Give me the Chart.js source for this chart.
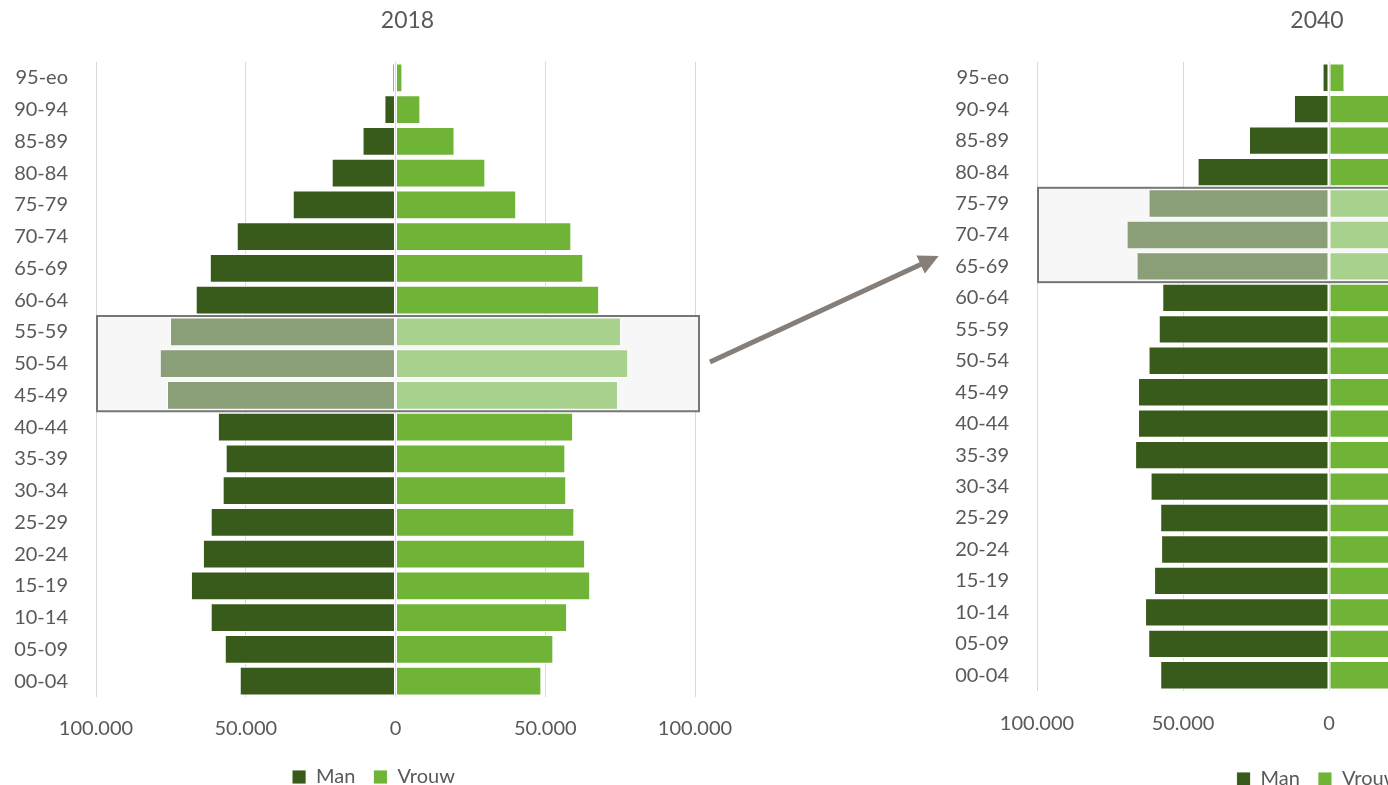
<!DOCTYPE html>
<html>
<head>
<meta charset="utf-8">
<script src="https://cdn.jsdelivr.net/npm/chart.js@4.4.1/dist/chart.umd.min.js"></script>
<style>
  html, body { margin: 0; padding: 0; background: #fff; overflow: hidden; }
  #wrap { position: relative; width: 1388px; height: 785px; overflow: hidden; }
  #wrap canvas { position: absolute; top: 0; }
  #c2018 { left: 0; }
  #c2040 { left: 941px; }
  #arrow { position: absolute; left: 0; top: 0; pointer-events: none; }
</style>
</head>
<body>
<div id="wrap">
  <canvas id="c2018" width="760" height="797"></canvas>
  <canvas id="c2040" width="754" height="799"></canvas>
  <svg id="arrow" width="1388" height="785">
    <defs>
      <marker id="head" markerWidth="4" markerHeight="4" refX="1.2" refY="2" orient="auto" markerUnits="strokeWidth">
        <path d="M0,0 L4,2 L0,4 z" fill="#857e79"></path>
      </marker>
    </defs>
    <line x1="710" y1="362" x2="926" y2="262" stroke="#857e79" stroke-width="5" marker-end="url(#head)"></line>
  </svg>
</div>
<script>
// leeftijdsgroepen, van boven naar beneden
const ageGroups = ["95-eo", "90-94", "85-89", "80-84", "75-79", "70-74", "65-69", "60-64", "55-59", "50-54",
  "45-49", "40-44", "35-39", "30-34", "25-29", "20-24", "15-19", "10-14", "05-09", "00-04"];

const years = ["2018", "2040"];

const man2018 = [1000, 3700, 11000, 21300, 34300, 53000, 62000, 66700, 75300, 78700,
  76300, 59300, 56700, 57700, 61700, 64300, 68300, 61700, 57000, 52000];
const vrouw2018 = [2300, 8300, 19700, 30000, 40300, 58700, 62700, 68000, 75300, 77700,
  74300, 59300, 56700, 57000, 59700, 63300, 65000, 57300, 52700, 48700];

const man2040 = [2200, 12000, 27400, 45000, 61800, 69300, 65900, 57100, 58300, 61800,
  65400, 65400, 66400, 61100, 57800, 57500, 59900, 63000, 61900, 57800];
// vrouw 2040 valt grotendeels buiten beeld, geschat
const vrouw2040 = [5300, 23000, 38000, 54000, 68000, 75000, 70000, 58000, 59000, 62000,
  65000, 64000, 65000, 60000, 57000, 56000, 57000, 60000, 59000, 55000];

const highlight2018 = ["55-59", "50-54", "45-49"];
const highlight2040 = ["75-79", "70-74", "65-69"];

const xTicks = [-100000, -50000, 0, 50000, 100000];

const MAN = "#385a1a";
const MAN_LIGHT = "#8a9e78";
const VROUW = "#6fb437";
const VROUW_LIGHT = "#a9d18e";
const TEXT = "#595959";
const FONT = "Lato";

const fmt = (v) => String(Math.abs(v)).replace(/\B(?=(\d{3})+(?!\d))/g, ".");

// grijze kader achter de gemarkeerde leeftijdsgroepen
const boxRect = (chart, rows) => {
  const { x, y } = chart.scales;
  const labels = chart.data.labels;
  const idx = rows.map((r) => labels.indexOf(r));
  const half = (y.bottom - y.top) / labels.length / 2;
  return {
    left: x.left + 1,
    right: x.right + 4,
    top: y.getPixelForValue(Math.min(...idx)) - half,
    bottom: y.getPixelForValue(Math.max(...idx)) + half,
  };
};

const highlightBox = {
  id: "highlightBox",
  beforeDatasetsDraw(chart, args, opts) {
    const r = boxRect(chart, opts.rows);
    const { ctx } = chart;
    ctx.save();
    ctx.fillStyle = "#f7f7f7";
    ctx.fillRect(r.left, r.top, r.right - r.left, r.bottom - r.top);
    ctx.restore();
  },
  afterDatasetsDraw(chart, args, opts) {
    const r = boxRect(chart, opts.rows);
    const { ctx } = chart;
    ctx.save();
    ctx.strokeStyle = "#767676";
    ctx.lineWidth = 2;
    ctx.strokeRect(r.left, r.top, r.right - r.left, r.bottom - r.top);
    ctx.restore();
  },
};

const yearTitle = {
  id: "yearTitle",
  afterDraw(chart, args, opts) {
    const { ctx } = chart;
    const x = chart.scales.x.getPixelForValue(0) + opts.dx;
    ctx.save();
    ctx.font = `23px ${FONT}`;
    ctx.fillStyle = TEXT;
    ctx.textAlign = "center";
    ctx.textBaseline = "middle";
    ctx.fillText(opts.text, x, 21);
    ctx.restore();
  },
};

// legenda iets opschuiven, zoals in het origineel
const legendShift = {
  id: "legendShift",
  afterLayout(chart, args, opts) {
    if (!chart.legend) return;
    chart.legend.left += opts.dx;
    chart.legend.right += opts.dx;
  },
};

const makePyramid = (id, year, man, vrouw, rows, cfg) => {
  const color = (dark, light) => (c) =>
    c.type === "data" && rows.includes(ageGroups[c.dataIndex]) ? light : dark;

  const barStyle = {
    borderColor: "rgba(255,255,255,0.85)",
    borderWidth: 1,
    borderSkipped: false,
    barPercentage: 0.9,
    categoryPercentage: 1,
  };

  return new Chart(document.getElementById(id), {
    type: "bar",
    data: {
      labels: ageGroups,
      datasets: [
        { label: "Man", data: man.map((v) => -v), backgroundColor: color(MAN, MAN_LIGHT), ...barStyle },
        { label: "Vrouw", data: vrouw, backgroundColor: color(VROUW, VROUW_LIGHT), ...barStyle },
      ],
    },
    options: {
      indexAxis: "y",
      responsive: false,
      animation: false,
      events: [],
      layout: { padding: { top: 62, right: cfg.padRight, left: 0, bottom: 0 } },
      scales: {
        x: {
          stacked: true,
          min: xTicks[0],
          max: xTicks[xTicks.length - 1],
          afterBuildTicks: (scale) => {
            scale.ticks = xTicks.map((v) => ({ value: v }));
          },
          afterFit: (scale) => {
            scale.height = cfg.xHeight;
          },
          ticks: {
            callback: (v) => fmt(v),
            color: TEXT,
            font: { family: FONT, size: 20 },
            padding: cfg.tickPad,
            maxRotation: 0,
          },
          grid: { color: "#d9d9d9", lineWidth: 1, drawTicks: false },
          border: { display: false },
        },
        y: {
          stacked: true,
          afterFit: (scale) => {
            scale.width = 96;
          },
          ticks: {
            color: TEXT,
            font: { family: FONT, size: 20 },
            padding: 28,
          },
          grid: { display: false, drawTicks: false },
          border: { display: false },
        },
      },
      plugins: {
        legend: {
          position: "bottom",
          labels: {
            color: TEXT,
            font: { family: FONT, size: 20 },
            boxWidth: 14,
            boxHeight: 14,
            padding: 18,
          },
        },
        tooltip: { enabled: false },
        highlightBox: { rows },
        yearTitle: { text: year, dx: cfg.titleDx },
        legendShift: { dx: cfg.legendDx },
      },
    },
    plugins: [highlightBox, yearTitle, legendShift],
  });
};

makePyramid("c2018", years[0], man2018, vrouw2018, highlight2018,
  { padRight: 65, xHeight: 52, tickPad: 20, titleDx: 12, legendDx: 26 });
makePyramid("c2040", years[1], man2040, vrouw2040, highlight2040,
  { padRight: 74, xHeight: 60, tickPad: 21, titleDx: -12, legendDx: 37 });
</script>
</body>
</html>
